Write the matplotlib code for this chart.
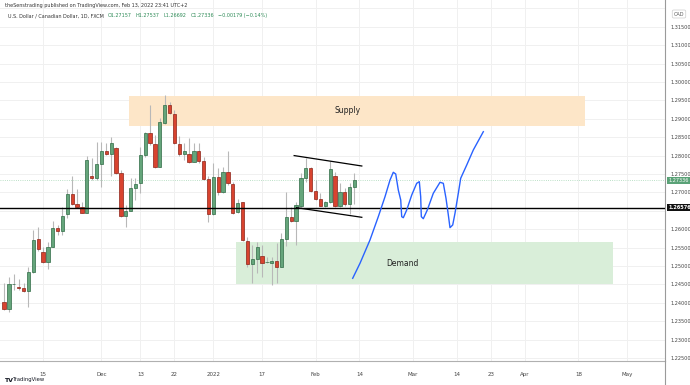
import numpy as np
import pandas as pd
import matplotlib
matplotlib.use("Agg")
import matplotlib.pyplot as plt
from matplotlib.patches import Rectangle

# daily USDCAD candles, Nov 3 2021 -> Feb 11 2022 (bar index 0 = Nov 3)
dates = pd.bdate_range("2021-11-03", "2022-02-11")
opens = [1.24030, 1.23831, 1.24497, 1.24437, 1.24402, 1.24329, 1.24845, 1.25725,
         1.25389, 1.25100, 1.25524, 1.26033, 1.25959, 1.26405, 1.26956, 1.26685,
         1.26611, 1.26448, 1.27454, 1.27383, 1.27772, 1.28133, 1.28043, 1.28206,
         1.27535, 1.26367, 1.26494, 1.27111, 1.27247, 1.28016, 1.28606, 1.28315,
         1.27698, 1.28878, 1.29383, 1.29130, 1.28315, 1.28035, 1.28035, 1.27834,
         1.28133, 1.27861, 1.27364, 1.26405, 1.27410, 1.27019, 1.27546, 1.27228,
         1.26475, 1.26731, 1.25687, 1.25046, 1.25182, 1.25280, 1.25100, 1.25081,
         1.25136, 1.24981, 1.25734, 1.26323, 1.26231, 1.26639, 1.27399, 1.27655,
         1.27046, 1.26812, 1.26639, 1.26747, 1.27454, 1.26639, 1.27019, 1.26677,
         1.27157]
highs = [1.24538, 1.24701, 1.24783, 1.24647, 1.24538, 1.24981, 1.25978, 1.26060,
         1.25524, 1.25660, 1.26223, 1.26114, 1.26595, 1.27084, 1.27446, 1.27084,
         1.26747, 1.27989, 1.27927, 1.28378, 1.28378, 1.28350, 1.28513, 1.28242,
         1.27609, 1.26658, 1.27383, 1.27383, 1.28242, 1.28649, 1.29375, 1.28560,
         1.29014, 1.29647, 1.29465, 1.29239, 1.28533, 1.28350, 1.28470, 1.28334,
         1.28350, 1.27970, 1.27446, 1.27791, 1.27655, 1.27698, 1.28133, 1.27291,
         1.26812, 1.26747, 1.25796, 1.25571, 1.25660, 1.25571, 1.25253, 1.25253,
         1.25617, 1.25889, 1.27019, 1.26611, 1.26747, 1.27519, 1.27927, 1.27682,
         1.27337, 1.26975, 1.26774, 1.27861, 1.27562, 1.27247, 1.27111, 1.27264,
         1.27537]
lows = [1.23804, 1.23750, 1.24348, 1.24348, 1.24302, 1.23886, 1.24810, 1.25416,
        1.25073, 1.24918, 1.25503, 1.25842, 1.25842, 1.26296, 1.26658, 1.26595,
        1.26432, 1.26440, 1.27337, 1.27337, 1.27139, 1.28016, 1.27446, 1.27513,
        1.26340, 1.26068, 1.26481, 1.26793, 1.26975, 1.27970, 1.28288, 1.27655,
        1.27682, 1.28850, 1.29130, 1.28315, 1.27997, 1.27880, 1.27799, 1.27818,
        1.27791, 1.27337, 1.26204, 1.26386, 1.26929, 1.26992, 1.27201, 1.26413,
        1.26448, 1.25687, 1.24981, 1.24530, 1.24802, 1.24709, 1.25081, 1.24484,
        1.24530, 1.24973, 1.25543, 1.26196, 1.25571, 1.26611, 1.27291, 1.27019,
        1.26793, 1.26630, 1.26611, 1.26712, 1.26611, 1.26611, 1.26630, 1.26413,
        1.26692]
closes = [1.23831, 1.24511, 1.24511, 1.24394, 1.24329, 1.24829, 1.25706, 1.25462,
          1.25100, 1.25524, 1.26024, 1.25959, 1.26359, 1.26956, 1.26685, 1.26611,
          1.26448, 1.27867, 1.27383, 1.27772, 1.28133, 1.28043, 1.28334, 1.27535,
          1.26367, 1.26494, 1.27111, 1.27220, 1.28016, 1.28606, 1.28334, 1.27698,
          1.28905, 1.29383, 1.29149, 1.28334, 1.28030, 1.28133, 1.27834, 1.28133,
          1.27861, 1.27364, 1.26405, 1.27410, 1.27019, 1.27546, 1.27247, 1.26432,
          1.26720, 1.25706, 1.25046, 1.25182, 1.25508, 1.25090, 1.25109, 1.25136,
          1.24981, 1.25734, 1.26323, 1.26231, 1.26649, 1.27399, 1.27655, 1.27046,
          1.26812, 1.26639, 1.26747, 1.27628, 1.26639, 1.27019, 1.26677, 1.27139,
          1.27336]

# time axis labels
tick_dates = ["2021-11-15", "2021-12-01", "2021-12-13", "2021-12-22", "2022-01-03",
              "2022-01-17", "2022-02-01", "2022-02-14", "2022-03-01", "2022-03-14",
              "2022-03-23", "2022-04-01", "2022-04-18", "2022-05-02"]
tick_labels = ["15", "Dec", "13", "22", "2022", "17", "Feb", "14", "Mar", "14",
               "23", "Apr", "18", "May"]

# drawings (bar index from Nov 3, price)
supply = (25.7, 119.4, 1.28804, 1.29620)
demand = (47.6, 125.1, 1.24511, 1.25660)
hline = 1.26576
chan_upper = ([59.6, 73.5], [1.28000, 1.27717])
chan_lower = ([60.1, 73.5], [1.26584, 1.26323])
path_x = [71.63, 73.13, 75.18, 76.89, 78.27, 79.30, 79.97, 80.47, 81.0, 81.5,
          81.7, 82.03, 82.73, 83.76, 84.78, 85.32, 85.6, 85.73, 86.14, 86.96,
          88.19, 89.57, 90.25, 90.8, 91.28, 91.62, 92.18, 92.65, 93.33, 93.82,
          95.06, 96.41, 98.47]
path_y = [1.24666, 1.25073, 1.25706, 1.26340, 1.26883, 1.27337, 1.27546, 1.27500,
          1.27065, 1.26793, 1.26340, 1.26312, 1.26522, 1.26929, 1.27247, 1.27291,
          1.26883, 1.26340, 1.26285, 1.26522, 1.26975, 1.27274, 1.27247, 1.26840,
          1.26386, 1.26041, 1.26114, 1.26432, 1.26975, 1.27383, 1.27744, 1.28152,
          1.28649]

last_price = closes[-1]

all_days = pd.bdate_range("2021-11-03", "2022-05-31")
tick_pos = [all_days.get_loc(pd.Timestamp(d)) for d in tick_dates]

fig = plt.figure(figsize=(6.9, 3.85), dpi=100)
ax = fig.add_axes([0, 24 / 385, 665 / 690, 361 / 385])
ax.set_xlim(-0.84, 135.8)
ax.set_ylim(1.22418, 1.32228)

# grid
for p in tick_pos:
    ax.axvline(p, color="#f0f0f0", lw=0.7, zorder=0)
for p in np.arange(1.225, 1.3201, 0.005):
    ax.axhline(p, color="#f0f0f0", lw=0.7, zorder=0)

# zones
ax.add_patch(Rectangle((supply[0], supply[2]), supply[1] - supply[0], supply[3] - supply[2],
                       facecolor="#fde6c8", edgecolor="none", zorder=1))
ax.add_patch(Rectangle((demand[0], demand[2]), demand[1] - demand[0], demand[3] - demand[2],
                       facecolor="#d9eed9", edgecolor="none", zorder=1))
ax.text((supply[0] + supply[1]) / 2 - 2, (supply[2] + supply[3]) / 2, "Supply",
        ha="center", va="center", fontsize=5.5, color="#222222", zorder=5)
ax.text(81.8, 1.25076, "Demand", ha="center", va="center", fontsize=5.5,
        color="#222222", zorder=5)

# candles
x = np.arange(len(opens))
o, h, l, c = map(np.array, (opens, highs, lows, closes))
up = c >= o
ax.vlines(x, l, h, color="#b8b8b8", lw=0.8, zorder=2)
body_lo = np.minimum(o, c)
body_h = np.maximum(np.abs(c - o), 0.00008)
ax.bar(x[up], body_h[up], bottom=body_lo[up], width=0.68, color="#65a57b",
       edgecolor="#2f6b45", linewidth=0.5, zorder=3)
ax.bar(x[~up], body_h[~up], bottom=body_lo[~up], width=0.68, color="#d8432f",
       edgecolor="#8c2318", linewidth=0.5, zorder=3)

# lines
ax.axhline(hline, color="black", lw=1.0, zorder=4)
ax.axhline(last_price, color="#a5d6b4", lw=0.6, ls=":", zorder=1)
ax.plot(*chan_upper, color="black", lw=0.9, zorder=4)
ax.plot(*chan_lower, color="black", lw=0.9, zorder=4)
ax.plot(path_x, path_y, color="#2962ff", lw=1.0, zorder=4)

# axes styling
for s in ["top", "left"]:
    ax.spines[s].set_visible(False)
ax.spines["right"].set_color("#9a9a9a")
ax.spines["right"].set_linewidth(0.8)
ax.spines["bottom"].set_color("#b0b0b0")
ax.spines["bottom"].set_linewidth(0.8)
ax.yaxis.tick_right()
yt = [v for v in np.arange(1.225, 1.3151, 0.005) if abs(v - hline) > 0.002]
ax.set_yticks(yt, [f"{v:.5f}" for v in yt])
ax.tick_params(axis="y", length=0, pad=4, labelsize=3.6, labelcolor="#444444")
ax.set_xticks(tick_pos, tick_labels)
ax.tick_params(axis="x", length=0, pad=8, labelsize=4.0, labelcolor="#444444")

# price tags on the axis
ax.annotate(f"{last_price:.5f}", xy=(1, last_price), xycoords=("axes fraction", "data"),
            xytext=(2.5, 0), textcoords="offset points", ha="left", va="center",
            fontsize=3.6, color="white",
            bbox=dict(boxstyle="square,pad=0.2", fc="#5aa277", ec="none"))
ax.annotate(f"{hline:.5f}", xy=(1, hline), xycoords=("axes fraction", "data"),
            xytext=(2.5, 0), textcoords="offset points", ha="left", va="center",
            fontsize=3.6, color="white", fontweight="bold",
            bbox=dict(boxstyle="square,pad=0.2", fc="#111111", ec="none"))
fig.text(679 / 690, 1 - 14 / 385, "CAD", ha="center", va="center", fontsize=3.6,
         color="#555555",
         bbox=dict(boxstyle="round,pad=0.3", fc="white", ec="#cccccc", lw=0.5))

# vertical axis line continues through the time scale
fig.add_artist(plt.Line2D([665 / 690, 665 / 690], [0, 24 / 385], color="#9a9a9a", lw=0.8))

# header
fig.text(5 / 690, 1 - 5 / 385, "theSenstrading published on TradingView.com, Feb 13, 2022 23:41 UTC+2",
         ha="left", va="center", fontsize=3.5, color="#333333")
renderer = fig.canvas.get_renderer()
parts = [("U.S. Dollar / Canadian Dollar, 1D, FXCM", "#333333"),
         ("O1.27157", "#2e8b57"), ("H1.27537", "#2e8b57"), ("L1.26692", "#2e8b57"),
         ("C1.27336", "#2e8b57"), ("\u22120.00179 (\u22120.14%)", "#2e8b57")]
xpix = 8
for txt, col in parts:
    t = fig.text(xpix / 690, 1 - 15.5 / 385, txt, ha="left", va="center",
                 fontsize=3.5, color=col)
    xpix = t.get_window_extent(renderer).x1 + 4
fig.add_artist(Rectangle((4 / 690, 1 - 20.5 / 385), (xpix - 2) / 690, 10 / 385,
                         transform=fig.transFigure, facecolor="white",
                         edgecolor="#e3e3e3", lw=0.5, zorder=-1))

# footer logo
fig.text(4 / 690, 5 / 385, "TV", ha="left", va="center", fontsize=4.5,
         fontweight="bold", color="#131722")
fig.text(13 / 690, 5 / 385, "TradingView", ha="left", va="center", fontsize=3.8,
         color="#131722")

fig.savefig("out.png", dpi=100)
